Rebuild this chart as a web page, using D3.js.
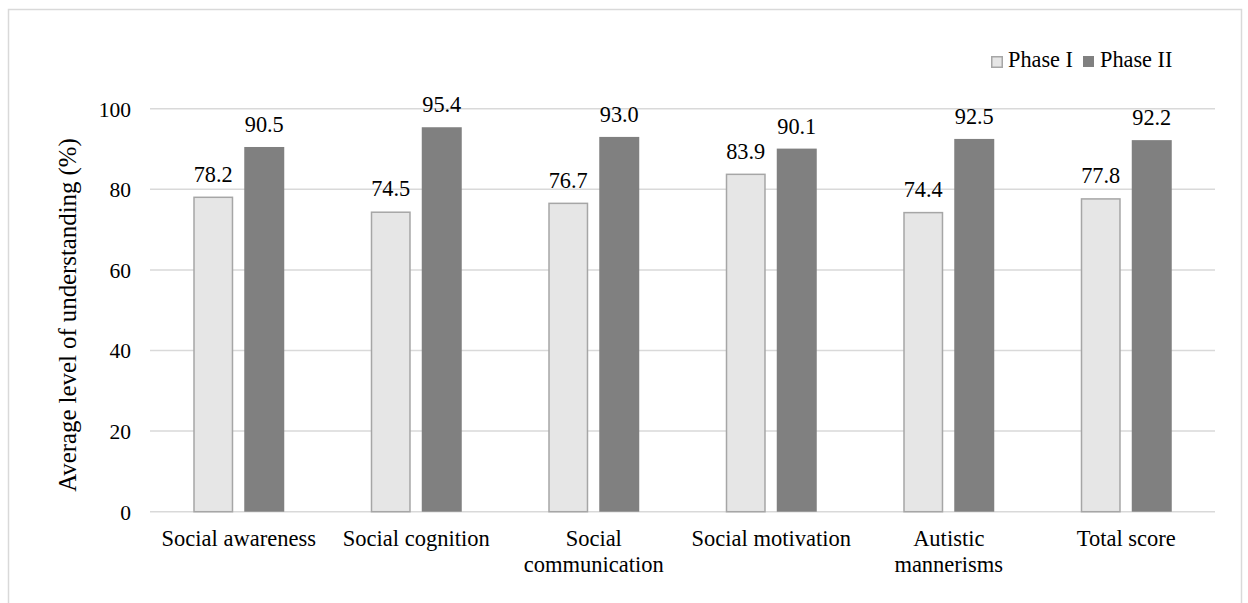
<!DOCTYPE html>
<html>
<head>
<meta charset="utf-8">
<script src="https://cdn.jsdelivr.net/npm/d3@7"></script>
<style>
  body { margin: 0; background: #fff; }
</style>
</head>
<body>
<div id="chart"></div>
<script>
// categories (multi-line labels split with "|")
var categories = ["Social awareness", "Social cognition", "Social|communication",
  "Social motivation", "Autistic|mannerisms", "Total score"];
var seriesNames = ["Phase I", "Phase II"];
var phase1 = [78.2, 74.5, 76.7, 83.9, 74.4, 77.8];
var phase2 = [90.5, 95.4, 93.0, 90.1, 92.5, 92.2];
var yTicks = [0, 20, 40, 60, 80, 100];

var svgWidth = 1248, svgHeight = 603;
var margin = { top: 108.7, left: 150, right: 33, bottom: 91.3 };
var width = svgWidth - margin.left - margin.right;
var height = svgHeight - margin.top - margin.bottom;
var fontFamily = "'Liberation Serif', 'Times New Roman', serif";

var svg = d3.select("#chart").append("svg")
  .attr("width", svgWidth)
  .attr("height", svgHeight)
  .style("font-family", fontFamily);

// outer frame
svg.append("rect")
  .attr("x", 8.5).attr("y", 9.5)
  .attr("width", 1233).attr("height", 620)
  .attr("fill", "none")
  .attr("stroke", "#d9d9d9")
  .attr("stroke-width", 1.5);

var chartGroup = svg.append("g")
  .attr("transform", `translate(${margin.left}, ${margin.top})`);

var data = categories.map(function(c, i) {
  return { cat: c, values: [phase1[i], phase2[i]] };
});

var x0 = d3.scaleBand().domain(categories).range([0, width]);
var x1 = d3.scaleBand().domain(seriesNames).range([0, 91]).paddingInner(0.216);
var y = d3.scaleLinear().domain([0, 100]).range([height, 0]);

var fills = ["#e6e6e6", "#808080"];
var strokes = ["#a6a6a6", "none"];

// gridlines
chartGroup.selectAll(".grid")
  .data(yTicks)
  .enter()
  .append("line")
  .attr("x1", 0).attr("x2", width)
  .attr("y1", d => y(d)).attr("y2", d => y(d))
  .attr("stroke", "#d9d9d9")
  .attr("stroke-width", 1.5);

// y tick labels
chartGroup.selectAll(".ytick")
  .data(yTicks)
  .enter()
  .append("text")
  .attr("x", -19)
  .attr("y", d => y(d) + 8)
  .attr("text-anchor", "end")
  .style("font-family", fontFamily)
  .style("font-size", "21.5px")
  .text(d => d);

// bars
var groups = chartGroup.selectAll(".cat")
  .data(data)
  .enter()
  .append("g")
  .attr("transform", d => `translate(${x0(d.cat) + x0.bandwidth() / 2 - 45.5}, 0)`);

groups.selectAll("rect")
  .data(d => d.values.map((v, j) => ({ key: seriesNames[j], v: v, j: j })))
  .enter()
  .append("rect")
  .attr("x", d => x1(d.key) + (d.j === 0 ? 0.75 : 0))
  .attr("y", d => y(d.v) + (d.j === 0 ? 0.75 : 0))
  .attr("width", d => x1.bandwidth() - (d.j === 0 ? 1.5 : 0))
  .attr("height", d => y(0) - y(d.v) - (d.j === 0 ? 0.75 : 0))
  .attr("fill", d => fills[d.j])
  .attr("stroke", d => strokes[d.j])
  .attr("stroke-width", 1.5);

// value labels
groups.selectAll(".val")
  .data(d => d.values.map((v, j) => ({ key: seriesNames[j], v: v })))
  .enter()
  .append("text")
  .attr("x", d => x1(d.key) + x1.bandwidth() / 2)
  .attr("y", d => y(d.v) - 15)
  .attr("text-anchor", "middle")
  .style("font-family", fontFamily)
  .style("font-size", "22.3px")
  .text(d => d.v.toFixed(1));

// category labels
var catLabels = chartGroup.selectAll(".xlab")
  .data(categories)
  .enter()
  .append("text")
  .attr("x", d => x0(d) + x0.bandwidth() / 2)
  .attr("y", height + 34.5)
  .attr("text-anchor", "middle")
  .style("font-family", fontFamily)
  .style("font-size", "22.5px");

catLabels.selectAll("tspan")
  .data(d => d.split("|").map(function(s) { return { s: s, parent: d }; }))
  .enter()
  .append("tspan")
  .attr("x", function(d) { return x0(d.parent) + x0.bandwidth() / 2; })
  .attr("dy", (d, i) => i === 0 ? 0 : 26)
  .text(d => d.s);

// y axis title
svg.append("text")
  .attr("transform", "translate(76, 315) rotate(-90)")
  .attr("text-anchor", "middle")
  .style("font-family", fontFamily)
  .style("font-size", "24.8px")
  .text("Average level of understanding (%)");

// legend
var legendX = [991, 1083];
var legend = svg.selectAll(".legend")
  .data(seriesNames)
  .enter()
  .append("g")
  .attr("transform", (d, i) => `translate(${legendX[i]}, 56)`);

legend.append("rect")
  .attr("x", (d, i) => i === 0 ? 0.75 : 0)
  .attr("y", (d, i) => i === 0 ? 0.75 : 0)
  .attr("width", (d, i) => i === 0 ? 10.5 : 11)
  .attr("height", (d, i) => i === 0 ? 10.5 : 11)
  .attr("fill", (d, i) => fills[i])
  .attr("stroke", (d, i) => strokes[i])
  .attr("stroke-width", 1.5);

legend.append("text")
  .attr("x", 17)
  .attr("y", 11)
  .style("font-family", fontFamily)
  .style("font-size", "22.3px")
  .text(d => d);
</script>
</body>
</html>
